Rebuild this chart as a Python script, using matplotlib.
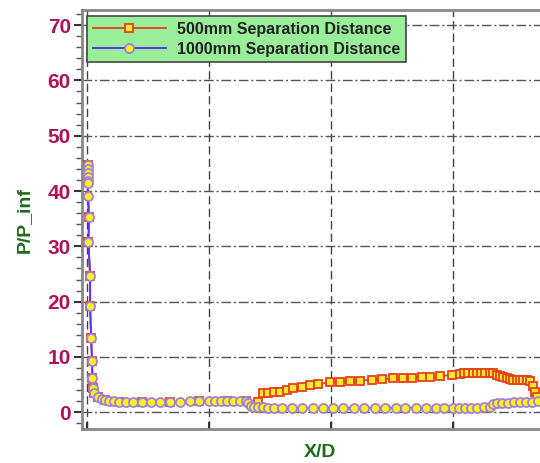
import matplotlib.pyplot as plt
from matplotlib.ticker import MultipleLocator

plt.rcParams['font.family'] = ['Liberation Sans', 'DejaVu Sans']

# 1000mm separation distance
x_1000 = [0.006, 0.004, 0.005, 0.006, 0.006, 0.007, 0.006, 0.016, 0.011, 0.025,
          0.025, 0.033, 0.041, 0.043, 0.052, 0.057, 0.09, 0.12, 0.15, 0.18,
          0.22, 0.26, 0.32, 0.38, 0.45, 0.52, 0.60, 0.68, 0.76, 0.84,
          0.92, 1.00, 1.05, 1.10, 1.15, 1.20, 1.25, 1.30, 1.32, 1.34,
          1.37, 1.40, 1.44, 1.48, 1.53, 1.60, 1.68, 1.76, 1.85, 1.93,
          2.02, 2.10, 2.19, 2.27, 2.36, 2.44, 2.53, 2.61, 2.70, 2.78,
          2.86, 2.93, 3.00, 3.05, 3.10, 3.15, 3.20, 3.25, 3.30, 3.33,
          3.36, 3.40, 3.45, 3.50, 3.55, 3.60, 3.65, 3.70]
p_1000 = [44.7, 44.0, 43.3, 42.6, 41.9, 41.4, 39.1, 35.3, 30.8, 24.6,
          19.2, 13.4, 9.2, 6.1, 4.3, 3.4, 2.8, 2.4, 2.2, 2.1,
          2.0, 1.9, 1.85, 1.8, 1.8, 1.8, 1.8, 1.85, 1.9, 1.95,
          2.0, 2.0, 2.05, 2.05, 2.1, 2.1, 2.1, 2.05, 1.6, 1.2,
          1.0, 0.95, 0.9, 0.85, 0.85, 0.8, 0.8, 0.8, 0.8, 0.8,
          0.8, 0.8, 0.8, 0.8, 0.8, 0.8, 0.8, 0.8, 0.8, 0.8,
          0.8, 0.8, 0.8, 0.8, 0.8, 0.8, 0.85, 0.9, 1.0, 1.4,
          1.6, 1.7, 1.75, 1.8, 1.85, 1.9, 1.9, 1.95]

# 500mm separation distance
x_500 = [0.006, 0.006, 0.016, 0.011, 0.025, 0.025, 0.033, 0.041, 0.043, 0.052,
         0.057, 0.09, 0.15, 0.26, 0.45, 0.68, 0.92, 1.15, 1.30, 1.40,
         1.445, 1.486, 1.53, 1.582, 1.637, 1.691, 1.760, 1.828, 1.896, 1.992,
         2.074, 2.156, 2.238, 2.333, 2.415, 2.511, 2.593, 2.661, 2.743, 2.811,
         2.893, 2.989, 3.057, 3.09, 3.126, 3.16, 3.194, 3.23, 3.262, 3.30,
         3.331, 3.358, 3.385, 3.413, 3.44, 3.467, 3.495, 3.522, 3.55, 3.577,
         3.605, 3.631, 3.658, 3.672, 3.686]
p_500 = [44.7, 41.9, 35.3, 30.8, 24.6, 19.2, 13.4, 9.2, 6.1, 4.3,
         3.4, 2.8, 2.2, 1.9, 1.8, 1.85, 2.0, 2.1, 2.05, 1.9,
         3.4, 3.5, 3.6, 3.7, 4.0, 4.3, 4.6, 4.9, 5.1, 5.4,
         5.5, 5.6, 5.7, 5.9, 6.0, 6.1, 6.2, 6.25, 6.3, 6.4,
         6.5, 6.75, 7.0, 7.05, 7.1, 7.1, 7.1, 7.1, 7.1, 7.1,
         7.1, 6.8, 6.6, 6.4, 6.2, 6.0, 5.9, 5.8, 5.8, 5.8,
         5.75, 5.7, 4.7, 3.7, 2.8]

fig = plt.figure(figsize=(5.4, 4.63), dpi=100)
ax = fig.add_axes([0.152, 0.073, 0.848, 0.905])

ax.plot(x_500, p_500, color="#e8401a", lw=1.3, marker="s", ms=5.5,
        mfc="#ffe830", mec="#e8401a", mew=1.3, label="500mm Separation Distance", zorder=3)
ax.plot(x_1000, p_1000, color="#5a30ff", lw=1.4, marker="o", ms=6.5,
        mfc="#fff020", mec="#a080e0", mew=1.3, label="1000mm Separation Distance", zorder=4)

ax.set_xlim(-0.041, 3.713)
ax.set_ylim(-3.07, 72.7)
ax.xaxis.set_major_locator(MultipleLocator(1))
ax.yaxis.set_major_locator(MultipleLocator(10))
ax.yaxis.set_minor_locator(MultipleLocator(2))
ax.set_xticklabels([])
ax.tick_params(axis="y", which="major", direction="out", length=6, width=1.5,
               labelsize=15, labelcolor="#b0105a", color="#333333", pad=2)
ax.tick_params(axis="y", which="minor", direction="out", length=4, width=1, color="#555555")
ax.tick_params(axis="x", which="major", direction="in", length=5, width=1.5, color="#333333")
for lbl in ax.get_yticklabels():
    lbl.set_fontweight("bold")

ax.xaxis.grid(True, linestyle=(0, (6, 3)), color="#444444", lw=1)
ax.yaxis.grid(True, linestyle=(0, (7, 2, 1.5, 2)), color="#555555", lw=1)

for s in ["left", "bottom", "top"]:
    ax.spines[s].set_color("#888888")
    ax.spines[s].set_linewidth(2)
ax.spines["right"].set_visible(False)

ax.set_ylabel("P/P_inf", color="#1d6b1d", fontsize=14, fontweight="bold")
ax.yaxis.set_label_coords(-0.108, 0.5)
ax.set_xlabel("X/D", color="#1d6b1d", fontsize=14, fontweight="bold")
ax.xaxis.set_label_coords(0.52, -0.036)

leg = ax.legend(loc="upper left", bbox_to_anchor=(0.011, 0.985), fancybox=False,
                framealpha=1, facecolor="#99ee99", edgecolor="#444444",
                prop={"size": 11.5, "weight": "bold"}, handlelength=4.6,
                handletextpad=0.7, borderpad=0.35, labelspacing=0.3, borderaxespad=0)
leg.get_frame().set_linewidth(1.2)
for t in leg.get_texts():
    t.set_color("#222222")

fig.savefig("out.png", dpi=100)
